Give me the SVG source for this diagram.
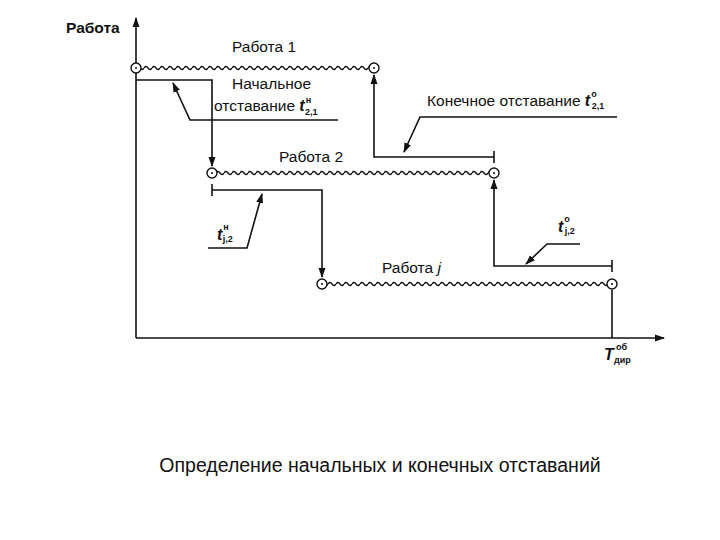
<svg xmlns="http://www.w3.org/2000/svg" width="720" height="540" viewBox="0 0 720 540">
<style>
.l{stroke:#111;stroke-width:1.6;fill:none}
.t{font-family:"Liberation Sans",Arial,sans-serif;font-size:15.5px;fill:#111}
.i{font-family:"Liberation Sans",Arial,sans-serif;font-style:italic;font-weight:bold;fill:#111;font-size:16px}
.s{font-family:"Liberation Sans",Arial,sans-serif;font-weight:bold;fill:#111;font-size:9px;font-style:normal}
.c{fill:#fff;stroke:#111;stroke-width:1.4}
.wv{fill:none;stroke:#111;stroke-width:1.4}
</style>
<defs>
<marker id="a" markerWidth="10" markerHeight="10" refX="9" refY="5" orient="auto" markerUnits="userSpaceOnUse"><path d="M0,1.5 L10,5 L0,8.5 Z" fill="#111"/></marker>
<pattern id="w1" patternUnits="userSpaceOnUse" width="8" height="8" x="0" y="64"><path class="wv" d="M0,4 q2,-3 4,0 t4,0"/></pattern>
<pattern id="w2" patternUnits="userSpaceOnUse" width="8" height="8" x="0" y="169"><path class="wv" d="M0,4 q2,-3 4,0 t4,0"/></pattern>
<pattern id="w3" patternUnits="userSpaceOnUse" width="8" height="8" x="0" y="280"><path class="wv" d="M0,4 q2,-3 4,0 t4,0"/></pattern>
</defs>
<rect width="720" height="540" fill="#fff"/>
<g id="axes">
<line class="l" x1="136" y1="338" x2="136" y2="18" marker-end="url(#a)"/>
<line class="l" x1="136" y1="338" x2="664" y2="338" marker-end="url(#a)"/>
<text class="t" x="66" y="33" font-weight="bold" font-size="13">Работа</text>
<text class="i" x="604" y="360">T</text><text class="s" x="616" y="350">об</text><text class="s" x="614" y="363">дир</text>
</g>
<g id="work1">
<rect x="141" y="64" width="228" height="8" fill="url(#w1)"/>
<circle class="c" cx="136" cy="68" r="5"/><circle cx="136" cy="68" r="1" fill="#111"/>
<circle class="c" cx="374" cy="68" r="5"/><circle cx="374" cy="68" r="1" fill="#111"/>
<text class="t" x="264" y="52" text-anchor="middle">Работа 1</text>
</g>
<g id="work2">
<rect x="217" y="169" width="272" height="8" fill="url(#w2)"/>
<circle class="c" cx="212" cy="173" r="5"/><circle cx="212" cy="173" r="1" fill="#111"/>
<circle class="c" cx="494" cy="173" r="5"/><circle cx="494" cy="173" r="1" fill="#111"/>
<text class="t" x="311" y="162" text-anchor="middle">Работа 2</text>
</g>
<g id="workj">
<rect x="327" y="280" width="280" height="8" fill="url(#w3)"/>
<circle class="c" cx="322" cy="284" r="5"/><circle cx="322" cy="284" r="1" fill="#111"/>
<circle class="c" cx="612" cy="284" r="5"/><circle cx="612" cy="284" r="1" fill="#111"/>
<text class="t" x="382" y="273">Работа <tspan font-style="italic">j</tspan></text>
</g>
<g id="connectors">
<polyline class="l" points="136,80 212,80 212,166" marker-end="url(#a)"/>
<polyline class="l" points="338,120 190,120 173,83" marker-end="url(#a)"/>
<polyline class="l" points="494,157 374,157 374,75" marker-end="url(#a)"/>
<line class="l" x1="494" y1="151" x2="494" y2="163"/>
<polyline class="l" points="617,117 420,117 404,152" marker-end="url(#a)"/>
<polyline class="l" points="212,190 322,190 322,277" marker-end="url(#a)"/>
<line class="l" x1="212" y1="184" x2="212" y2="196"/>
<polyline class="l" points="208,248 247,248 262,194" marker-end="url(#a)"/>
<polyline class="l" points="612,266 494,266 494,180" marker-end="url(#a)"/>
<line class="l" x1="612" y1="260" x2="612" y2="272"/>
<polyline class="l" points="580,244 547,244 526,264" marker-end="url(#a)"/>
<line class="l" x1="612" y1="290" x2="612" y2="338"/>
</g>
<g id="labels">
<text class="t" x="232" y="89">Начальное</text>
<text class="t" x="214" y="111">отставание <tspan class="i">t</tspan><tspan class="s" dx="1" dy="-8">н</tspan><tspan class="s" dx="-6" dy="12">2,1</tspan></text>
<text class="t" x="427" y="106">Конечное отставание <tspan class="i">t</tspan><tspan class="s" dx="1" dy="-9">о</tspan><tspan class="s" dx="-5" dy="12">2,1</tspan></text>
<text class="i" x="217" y="240">t<tspan class="s" dx="1" dy="-10">н</tspan><tspan class="s" dx="-6" dy="12">j,2</tspan></text>
<text class="i" x="558" y="232">t<tspan class="s" dx="1" dy="-10">о</tspan><tspan class="s" dx="-5" dy="12">j,2</tspan></text>
</g>
<text x="380" y="472" text-anchor="middle" font-family="Liberation Sans,Arial,sans-serif" font-size="19.5" fill="#111">Определение начальных и конечных отставаний</text>
</svg>
